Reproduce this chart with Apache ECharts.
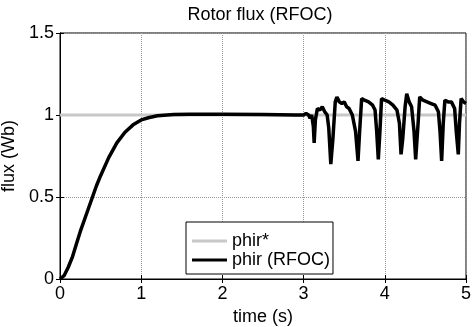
<!DOCTYPE html>
<html><head><meta charset="utf-8">
<script src="https://cdn.jsdelivr.net/npm/echarts@6/dist/echarts.min.js"></script>
<style>html,body{margin:0;padding:0;background:#fff}#c{width:472px;height:327px}</style>
</head><body><div id="c"></div>
<script>
const timeS = [0,0.05,0.1,0.15,0.2,0.25,0.3,0.35,0.4,0.45,0.5,0.6,0.7,0.8,0.9,1.0,1.1,1.2,1.4,1.6,2.0,2.5,2.9,
  3.0,3.03,3.06,3.08,3.1,3.12,3.13,3.145,3.17,3.2,3.23,3.26,3.29,3.31,3.335,3.36,3.39,3.41,3.44,3.47,3.5,3.53,3.56,
  3.6,3.64,3.67,3.69,3.715,3.75,3.8,3.85,3.88,3.9,3.92,3.94,3.96,4.0,4.05,4.1,4.15,4.18,4.2,4.22,4.25,4.27,4.3,4.33,
  4.36,4.38,4.41,4.43,4.47,4.52,4.57,4.62,4.66,4.68,4.7,4.72,4.74,4.78,4.82,4.86,4.88,4.905,4.92,4.94,4.97,5.0];
const phir = [0,0.02,0.07,0.13,0.21,0.29,0.36,0.43,0.5,0.57,0.63,0.74,0.83,0.895,0.94,0.97,0.985,0.995,1.003,1.005,1.005,1.003,1.0,
  1.0,1.01,1.0,0.98,1.0,0.93,0.83,0.97,1.04,1.03,1.05,1.02,1.0,0.92,0.7,0.85,1.08,1.11,1.08,1.07,1.08,1.05,1.04,
  1.0,0.9,0.72,0.9,1.1,1.09,1.08,1.06,1.03,0.9,0.73,0.9,1.1,1.09,1.08,1.06,1.03,0.95,0.76,0.85,1.05,1.13,1.08,1.05,
  0.9,0.73,0.95,1.11,1.09,1.08,1.07,1.06,1.02,0.9,0.72,0.95,1.09,1.08,1.08,1.04,0.9,0.76,0.95,1.1,1.08,1.07];
const refTime = [0, 5];
const phirRef = [1, 1];

const F = 'Liberation Sans, Arial, sans-serif';
const FS = 18;
const chart = echarts.init(document.getElementById('c'));
const tickStyle = {show:true, inside:true, length:4, lineStyle:{color:'#000'}};
chart.setOption({
  animation:false,
  title:{text:'Rotor flux (RFOC)', left:260, top:6, padding:0, textAlign:'center',
    textStyle:{fontFamily:F, fontSize:FS, fontWeight:'normal', color:'#000'}},
  grid:{left:60, right:6, top:33, bottom:48, show:true, borderColor:'#000', borderWidth:1, outerBoundsMode:'none', containLabel:false},
  legend:{orient:'vertical', left:186, top:222, backgroundColor:'#fff', borderColor:'#000', borderWidth:1,
    padding:[10,3,5,6], itemGap:1, itemWidth:35, itemHeight:3, icon:'rect',
    textStyle:{fontFamily:F, fontSize:FS, color:'#000', padding:[0,0,0,0]},
    data:['phir*','phir (RFOC)']},
  xAxis:[{type:'value', min:0, max:5, interval:1, name:'time (s)', nameLocation:'middle', nameGap:27,
    nameTextStyle:{fontFamily:F, fontSize:FS, color:'#000'},
    axisLine:{lineStyle:{color:'#000'}}, axisTick:tickStyle,
    axisLabel:{fontFamily:F, fontSize:FS, color:'#000', margin:6},
    splitLine:{show:true, lineStyle:{type:'dotted', color:'#999'}}},
    {type:'value', min:0, max:5, interval:1, position:'top', axisLine:{lineStyle:{color:'#000'}},
    axisTick:tickStyle, axisLabel:{show:false}, splitLine:{show:false}}],
  yAxis:[{type:'value', min:0, max:1.5, interval:0.5, name:'flux (Wb)', nameLocation:'middle', nameGap:37,
    nameTextStyle:{fontFamily:F, fontSize:FS, color:'#000'},
    axisLine:{show:true, lineStyle:{color:'#000'}}, axisTick:tickStyle,
    axisLabel:{fontFamily:F, fontSize:FS, color:'#000', margin:6},
    splitLine:{show:true, lineStyle:{type:'dotted', color:'#999'}}},
    {type:'value', min:0, max:1.5, interval:0.5, position:'right', axisLine:{show:true, lineStyle:{color:'#000'}},
    axisTick:tickStyle, axisLabel:{show:false}, splitLine:{show:false}}],
  series:[
    {name:'phir*', type:'line', symbol:'none', data:refTime.map((t,i)=>[t, phirRef[i]]),
      lineStyle:{color:'#c8c8c8', width:3}, itemStyle:{color:'#c8c8c8'}},
    {name:'phir (RFOC)', type:'line', symbol:'none', data:timeS.map((t,i)=>[t, phir[i]]),
      lineStyle:{color:'#000', width:3.5}, itemStyle:{color:'#000'}}
  ]
});
</script></body></html>
